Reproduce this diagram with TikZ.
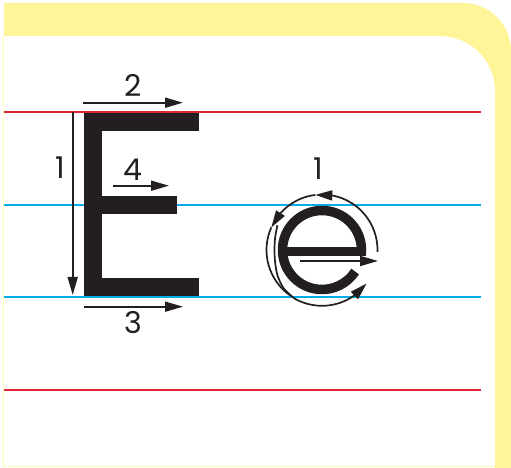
\documentclass[tikz,border=0pt]{standalone}
\usepackage{fontspec}
\setmainfont{Poppins}
\usetikzlibrary{arrows.meta,bending}
\definecolor{yel}{RGB}{255,245,152}
\definecolor{redl}{RGB}{222,38,52}
\definecolor{bluel}{RGB}{0,172,236}
\definecolor{ink}{RGB}{35,31,32}
\tikzset{
  rule/.style={line width=2.4pt},
  strokearrow/.style={ink, line width=1.8pt, -{Triangle[length=18pt,width=10pt]}},
  earrow/.style={ink, line width=1.7pt, -{Triangle[length=17pt,width=10pt]}},
  eline/.style={ink, line width=1.7pt},
  num/.style={ink, inner sep=0pt, font=\fontsize{30}{30}\selectfont}
}
\begin{document}
\begin{tikzpicture}[x=1pt,y=1pt]
\useasboundingbox (0,0) rectangle (511,468);
% yellow frame
\fill[yel] (4,465) -- (463,465) arc[start angle=90,end angle=0,radius=48] -- (511,0) -- (495,0)
  -- (495,377) arc[start angle=0,end angle=90,radius=55] -- (4,432) -- cycle;
\draw[yel!70, line width=0.8pt] (3.6,432) -- (3.6,2) -- (495,2);
% ruled lines
\draw[rule, redl] (4,356) -- (481,356);
\draw[rule, bluel] (4,263) -- (481,263);
\draw[rule, bluel] (4,171) -- (481,171);
\draw[rule, redl] (4,78) -- (481,78);
% capital E
\fill[ink] (84.3,354.7) rectangle (199,337);
\fill[ink] (84.3,354.7) rectangle (102.3,172);
\fill[ink] (84.3,272) rectangle (176.7,254);
\fill[ink] (84.3,190) rectangle (199,172);
% stroke arrows for E
\coordinate (a1s) at (72.7,356.3); \coordinate (a1e) at (72.7,173);
\coordinate (a2s) at (83,365.3);   \coordinate (a2e) at (183,365.3);
\coordinate (a4s) at (113,282.3);  \coordinate (a4e) at (169,282.3);
\coordinate (a3s) at (84,161.3);   \coordinate (a3e) at (183,161.3);
\draw[strokearrow] (a1s) -- (a1e);
\draw[strokearrow] (a2s) -- (a2e);
\draw[strokearrow] (a4s) -- (a4e);
\draw[strokearrow] (a3s) -- (a3e);
\node[num] (n1) at (60.7,300) {1};
\node[num] (n2) at (133,383) {2};
\node[num] (n4) at (133,298) {4};
\node[num] (n3) at (133,145) {3};
% small e
\node[num] (ne1) at (318,299) {1};
\begin{scope}[shift={(322,218)}]
  \draw[ink, line width=9.5pt] (-5:39.5) arc[start angle=-5,end angle=327,radius=39.5];
  \fill[ink] (-36,-6.5) rectangle (44,3);
  \coordinate (hs) at (-22,-11); \coordinate (he) at (56,-11);
  \draw[strokearrow] (hs) -- (he);
  % circular stroke arrows
  \draw[earrow] (-2:55.5) arc[start angle=-2,end angle=97,radius=55.5];
  \draw[earrow] (97:55.5) arc[start angle=97,end angle=156,radius=55.5];
  \draw[eline] (156:55.5) arc[start angle=156,end angle=236,radius=55.5];
  \draw[eline] plot[smooth] coordinates {(151:51) (165:48.5) (180:47.5) (195:48.5) (210:51.3) (225:54.2) (240:55.8)};
  \draw[earrow] (240:55.8) arc[start angle=240,end angle=323,radius=55.8];
\end{scope}
\end{tikzpicture}
\end{document}
